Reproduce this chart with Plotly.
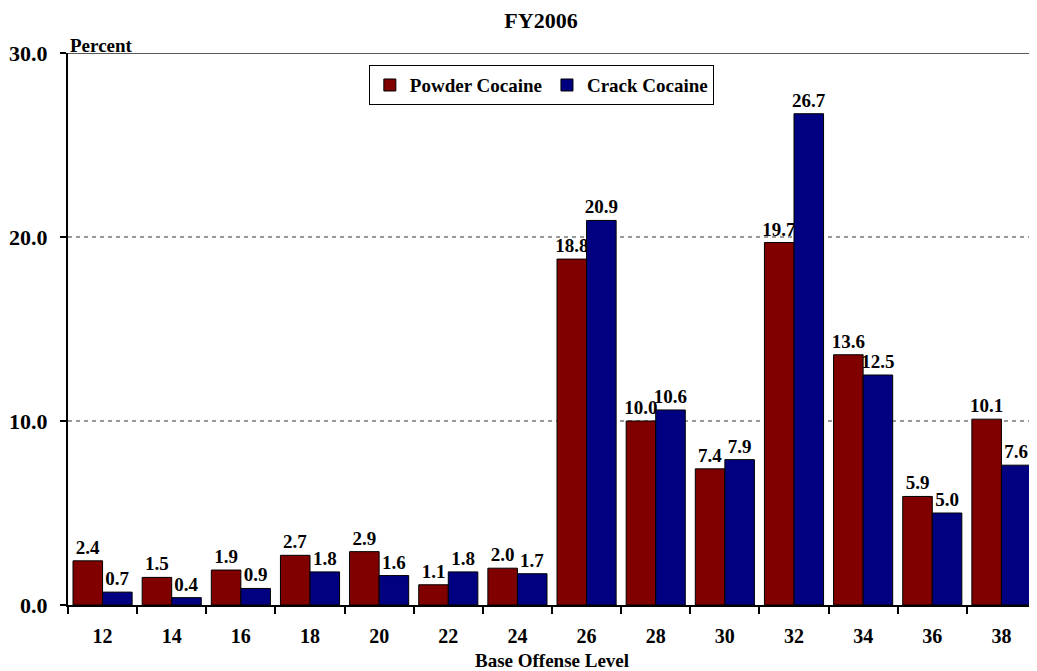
import plotly.graph_objects as go

levels = ["12", "14", "16", "18", "20", "22", "24", "26", "28", "30", "32", "34", "36", "38"]
powder = [2.4, 1.5, 1.9, 2.7, 2.9, 1.1, 2.0, 18.8, 10.0, 7.4, 19.7, 13.6, 5.9, 10.1]
crack = [0.7, 0.4, 0.9, 1.8, 1.6, 1.8, 1.7, 20.9, 10.6, 7.9, 26.7, 12.5, 5.0, 7.6]
yticks = [0, 10, 20, 30]

FONT = "Liberation Serif"

fig = go.Figure()
fig.add_trace(go.Bar(
    x=levels, y=powder, name="Powder Cocaine",
    marker=dict(color="#800000", line=dict(color="black", width=1)),
    text=[f"{v:.1f}" for v in powder], textposition="outside", constraintext="none",
    textfont=dict(family=FONT, size=19, color="black", weight="bold"),
    cliponaxis=False,
))
fig.add_trace(go.Bar(
    x=levels, y=crack, name="Crack Cocaine",
    marker=dict(color="#000080", line=dict(color="black", width=1)),
    text=[f"{v:.1f}" for v in crack], textposition="outside", constraintext="none",
    textfont=dict(family=FONT, size=19, color="black", weight="bold"),
    cliponaxis=False,
))

fig.update_layout(
    width=1029, height=663,
    margin=dict(l=60, r=1, t=45, b=66),
    paper_bgcolor="white", plot_bgcolor="white",
    barmode="group", bargap=0.145, bargroupgap=0,
    font=dict(family=FONT, color="black", weight="bold"),
    title=dict(text="FY2006", x=0.518, xanchor="center", y=0.982, yanchor="middle",
               font=dict(family=FONT, size=22, color="black", weight="bold")),
    showlegend=True,
    legend=dict(orientation="h", x=0.489, xanchor="center", y=0.978, yanchor="top",
                bordercolor="black", borderwidth=1, bgcolor="white",
                font=dict(family=FONT, size=19, color="black", weight="bold"),
                itemwidth=30, traceorder="normal"),
    xaxis=dict(
        type="category", showline=True, linecolor="black", linewidth=2,
        ticks="outside", tickson="boundaries", ticklen=7, tickwidth=2, tickcolor="black",
        ticklabelstandoff=12,
        tickfont=dict(family=FONT, size=20, color="black", weight="bold"),
        title=dict(text="Base Offense Level", standoff=8,
                   font=dict(family=FONT, size=19, color="black", weight="bold")),
        showgrid=False,
    ),
    yaxis=dict(
        range=[0, 30], tickvals=yticks, tickformat=".1f",
        showline=True, linecolor="black", linewidth=2,
        ticks="outside", ticklen=6, tickwidth=2, tickcolor="black",
        ticklabelstandoff=8,
        tickfont=dict(family=FONT, size=22, color="black", weight="bold"),
        showgrid=True, gridcolor="#999999", griddash="4px,4px", gridwidth=1.5,
        zeroline=False,
    ),
)

fig.add_shape(type="line", xref="paper", yref="y", x0=0, x1=1, y0=30, y1=30,
              line=dict(color="#222222", width=1.5))
fig.add_annotation(text="Percent", xref="paper", yref="paper", x=0, y=1,
                   xanchor="left", yanchor="bottom", yshift=-5, showarrow=False,
                   font=dict(family=FONT, size=19, color="black", weight="bold"))

fig.write_html("out.html")
